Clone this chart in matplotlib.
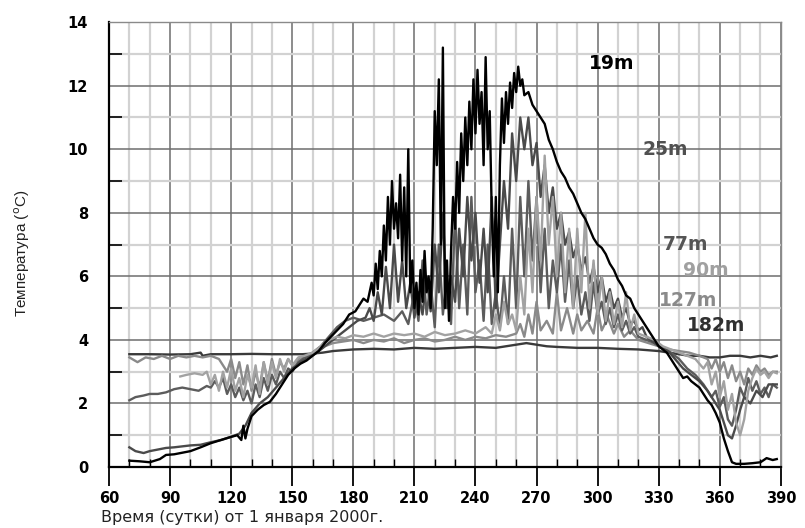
import matplotlib
matplotlib.use("Agg")
import matplotlib.pyplot as plt
from matplotlib.ticker import MultipleLocator

plt.rcParams['font.family'] = ['DejaVu Sans']

# ---------------- data ----------------
d19 = [70, 75, 80, 85, 88, 92, 96, 100, 105, 110, 115, 120, 123, 125, 126, 127, 128, 130, 133, 136, 139, 142, 145, 148, 151, 154, 157, 160, 163, 166, 169, 172, 175, 178, 181, 183, 185, 187, 189, 190, 191, 192, 193, 194, 195, 196, 197, 198, 199, 200, 201, 202, 203, 204, 205, 206, 207, 208, 209, 210, 211, 212, 213, 214, 215, 216, 217, 218, 219, 220, 221, 222, 223, 224, 225, 226, 227, 228, 229, 230, 231, 232, 233, 234, 235, 236, 237, 238, 239, 240, 241, 242, 243, 244, 245, 246, 247, 248, 249, 250, 251, 252, 253, 254, 255, 256, 257, 258, 259, 260, 261, 262, 263, 264, 266, 268, 270, 272, 274, 276, 278, 280, 282, 284, 286, 288, 290, 292, 294, 296, 298, 300, 302, 304, 306, 308, 310, 312, 314, 316, 318, 320, 322, 324, 326, 328, 330, 332, 334, 336, 338, 340, 342, 344, 346, 348, 350, 352, 354, 356, 358, 360, 362, 364, 366, 368, 372, 376, 380, 383, 386, 388]
t19 = [0.2, 0.18, 0.15, 0.25, 0.38, 0.4, 0.45, 0.5, 0.62, 0.75, 0.85, 0.95, 1.0, 0.85, 1.3, 0.9, 1.2, 1.6, 1.8, 1.95, 2.05, 2.3, 2.6, 2.9, 3.1, 3.25, 3.35, 3.5, 3.65, 3.9, 4.1, 4.3, 4.5, 4.8, 4.9, 5.1, 5.3, 5.2, 5.8, 5.4, 6.4, 5.6, 6.8, 6.0, 7.6, 6.5, 8.5, 7.0, 9.0, 7.5, 8.3, 7.2, 9.2, 6.5, 8.8, 6.0, 10.0, 5.5, 6.5, 5.0, 5.8, 4.8, 6.2, 5.2, 6.8, 5.5, 6.0, 5.0, 7.5, 11.2, 9.5, 12.2, 7.0, 13.2, 5.0, 6.5, 4.6, 6.8, 8.5, 7.5, 9.6, 8.0, 10.5, 9.0, 11.0, 9.5, 11.5, 10.0, 12.2, 10.5, 12.5, 10.8, 11.8, 9.5, 12.9, 10.0, 11.2, 8.0, 6.0, 8.5, 5.5, 9.5, 11.6, 10.2, 11.8, 10.8, 12.1, 11.3, 12.4, 11.8, 12.6, 12.0, 12.2, 11.7, 11.8, 11.4, 11.2, 11.0, 10.8, 10.3, 10.0, 9.6, 9.3, 9.1, 8.8, 8.6, 8.3, 8.0, 7.8, 7.5, 7.2, 7.0, 6.9, 6.7, 6.4, 6.2, 5.9, 5.7, 5.4, 5.3, 5.0, 4.8, 4.6, 4.4, 4.2, 4.0, 3.8, 3.7, 3.6, 3.4, 3.2, 3.0, 2.8, 2.85, 2.7, 2.6, 2.5, 2.3, 2.1, 1.95, 1.7, 1.4, 0.9, 0.5, 0.15, 0.1, 0.1, 0.12, 0.15, 0.28, 0.22, 0.25]

d25 = [70, 73, 77, 80, 84, 88, 92, 96, 100, 105, 110, 115, 120, 124, 127, 130, 134, 138, 142, 146, 150, 154, 158, 162, 166, 170, 174, 178, 182, 186, 188, 190, 192, 194, 196, 198, 200, 202, 204, 206, 208, 210, 212, 214, 216, 218, 220, 222, 224, 226, 228, 230, 232, 234, 236, 238, 240, 242, 244, 246, 248, 250, 252, 254, 256, 258, 260, 262, 264, 266, 268, 270, 272, 274, 276, 278, 280, 282, 284, 286, 288, 290, 292, 294, 296, 298, 300, 302, 304, 306, 308, 310, 312, 314, 316, 318, 320, 322, 324, 326, 328, 330, 334, 338, 342, 346, 350, 354, 358, 360, 362, 364, 366, 368, 370, 372, 375, 378, 381, 384, 388]
t25 = [0.62, 0.5, 0.44, 0.5, 0.55, 0.6, 0.62, 0.65, 0.68, 0.7, 0.78, 0.85, 0.95, 1.05, 1.3, 1.7, 2.0, 2.2, 2.5, 2.8, 3.1, 3.3, 3.45, 3.6, 3.8, 4.0, 4.2, 4.4, 4.6, 4.7, 5.0, 4.6, 5.5, 4.8, 6.3, 5.0, 7.0, 5.2, 6.5, 5.0, 5.8, 4.7, 5.5, 4.8, 6.0, 4.9, 7.0, 5.5, 8.0, 5.0, 6.0, 5.2, 7.5, 6.0, 8.5, 6.5, 8.0, 5.8, 7.5, 5.5, 8.5, 5.0, 7.0, 9.0, 7.5, 10.5, 9.0, 11.0, 10.0, 11.0, 9.5, 10.2, 8.5, 9.5, 8.0, 8.8, 7.5, 8.0, 7.0, 7.4, 6.6, 7.0, 6.2, 6.6, 5.8, 6.3, 5.5, 6.0, 5.2, 5.6, 5.0, 5.3, 4.7, 5.0, 4.5, 4.6, 4.3, 4.4, 4.1, 4.0, 3.9, 3.8, 3.7, 3.4, 3.1, 2.9, 2.7, 2.4, 2.0, 1.8, 1.4, 1.0, 0.9, 1.3, 1.8, 2.2, 2.0, 2.4, 2.2, 2.6, 2.6]

d77 = [70, 73, 77, 80, 84, 88, 92, 96, 100, 104, 108, 110, 112, 114, 116, 118, 120, 122, 124, 126, 128, 130, 132, 134, 136, 138, 140, 142, 144, 146, 148, 150, 153, 156, 160, 164, 168, 172, 176, 180, 185, 190, 195, 200, 204, 207, 210, 212, 214, 216, 218, 220, 222, 224, 226, 228, 230, 232, 234, 236, 238, 240, 242, 244, 246, 248, 250, 252, 254, 256, 258, 260, 262, 264, 266, 268, 270, 272, 274, 276, 278, 280, 282, 284, 286, 288, 290, 292, 294, 296, 298, 300, 302, 304, 306, 308, 310, 312, 314, 316, 318, 320, 324, 328, 332, 336, 340, 344, 348, 352, 356, 358, 360, 362, 364, 366, 368, 370, 372, 374, 376, 378, 380, 382, 384, 386, 388]
t77 = [2.1, 2.2, 2.25, 2.3, 2.3, 2.35, 2.45, 2.5, 2.45, 2.4, 2.55, 2.5, 2.7, 2.5, 2.8, 2.3, 2.6, 2.2, 2.5, 2.1, 2.4, 2.0, 2.6, 2.2, 2.8, 2.4, 2.9, 2.6, 3.0, 2.8, 3.1, 3.0, 3.3, 3.45, 3.6, 3.8, 4.1, 4.4, 4.6, 4.7, 4.6, 4.7, 4.8, 4.6, 4.9, 4.5, 5.5, 4.6, 6.5, 4.8, 5.8, 4.4, 7.0, 4.8, 6.0, 4.5, 8.0, 5.0, 7.0, 4.8, 8.5, 5.5, 6.5, 4.6, 7.0, 4.5, 5.5, 4.4, 6.0, 4.5, 7.5, 5.0, 8.5, 6.0, 9.0, 6.5, 8.5, 5.5, 7.5, 5.0, 6.5, 5.5, 7.0, 5.2, 6.5, 5.0, 6.0, 4.8, 5.5, 4.6, 5.8, 4.8, 5.2, 4.5, 5.0, 4.4, 4.8, 4.3, 4.6, 4.2, 4.4, 4.1, 4.0, 3.9, 3.75, 3.6, 3.4, 3.1, 2.9, 2.6, 2.2, 2.4, 1.9, 2.2, 1.5, 1.3, 1.8, 2.5, 2.2, 2.8, 2.4, 2.7, 2.3, 2.5, 2.2, 2.6, 2.5]

d90 = [95, 98, 102, 106, 108, 110, 112, 114, 116, 118, 120, 122, 124, 126, 128, 130, 132, 134, 136, 138, 140, 142, 144, 146, 148, 150, 153, 156, 160, 164, 168, 172, 176, 180, 185, 190, 195, 200, 205, 210, 215, 220, 225, 230, 235, 240, 245, 248, 250, 252, 254, 256, 258, 260, 262, 264, 266, 268, 270, 272, 274, 276, 278, 280, 282, 284, 286, 288, 290, 292, 294, 296, 298, 300, 302, 304, 306, 308, 310, 312, 314, 316, 318, 320, 324, 328, 332, 336, 340, 344, 348, 352, 354, 356, 358, 360, 362, 364, 366, 368, 370, 372, 374, 376, 378, 380, 382, 384, 386, 388]
t90 = [2.85, 2.9, 2.95, 2.9, 3.0, 2.6, 2.9, 2.4, 3.0, 2.5, 3.1, 2.4, 2.8, 2.2, 2.9, 2.5, 3.2, 2.3, 3.3, 2.6, 3.3, 2.8, 3.4, 3.0, 3.4, 3.2, 3.45, 3.5, 3.6, 3.8, 4.0, 4.1, 4.05, 4.15, 4.1, 4.2, 4.1, 4.2, 4.15, 4.2, 4.1, 4.25, 4.15, 4.2, 4.3, 4.2, 4.4, 4.2, 4.8, 4.3, 5.2, 4.5, 4.8, 4.3, 6.0, 4.8, 7.5, 5.5, 8.5, 6.5, 9.8, 7.0, 8.5, 6.0, 8.0, 5.5, 7.5, 5.0, 7.5, 5.5, 8.0, 5.0, 6.5, 4.8, 6.0, 4.6, 5.5, 4.5, 5.2, 4.4, 5.5, 4.3, 4.8, 4.2, 4.1, 4.0, 3.8, 3.7, 3.6, 3.5, 3.4, 3.1, 3.3, 2.6, 3.0, 2.2, 2.7, 1.8, 2.3, 1.4, 1.0, 1.5, 2.4, 2.8, 3.1, 2.9, 3.0, 2.8, 3.0, 2.95]

d127 = [70, 74, 78, 82, 86, 90, 94, 98, 102, 106, 110, 114, 118, 120, 122, 124, 126, 128, 130, 132, 134, 136, 138, 140, 142, 144, 146, 148, 150, 154, 158, 162, 166, 170, 175, 180, 185, 190, 195, 200, 205, 210, 215, 220, 225, 230, 235, 240, 245, 250, 255, 260, 262, 264, 266, 268, 270, 272, 275, 278, 280, 282, 285, 288, 290, 292, 295, 298, 300, 302, 305, 308, 310, 313, 316, 320, 325, 330, 335, 340, 345, 350, 354, 356, 358, 360, 362, 364, 366, 368, 370, 372, 374, 376, 378, 380, 382, 384, 386, 388]
t127 = [3.45, 3.3, 3.45, 3.4, 3.5, 3.4, 3.5, 3.45, 3.5, 3.45, 3.5, 3.4, 3.0, 3.4, 2.8, 3.3, 2.6, 3.2, 2.4, 3.0, 2.5, 3.3, 2.7, 3.4, 2.9, 3.3, 3.1, 3.4, 3.2, 3.45, 3.5, 3.6, 3.8, 3.9, 3.95, 4.0, 3.9, 4.0, 3.95, 4.05, 3.9, 4.0, 4.05, 3.95, 4.0, 4.1, 4.0, 4.1, 4.05, 4.15, 4.1, 4.2, 4.5, 4.1, 4.8, 4.2, 5.2, 4.3, 4.6, 4.2, 5.5, 4.3, 5.0, 4.2, 4.8, 4.3, 4.6, 4.2, 5.0, 4.3, 4.7, 4.2, 4.5, 4.1, 4.3, 4.0, 3.9, 3.8, 3.7, 3.65, 3.6, 3.5, 3.4, 3.1, 3.4, 3.0, 3.3, 2.8, 3.2, 2.7, 3.0, 2.6, 3.1, 2.9, 3.2, 3.0, 3.1, 2.9, 3.0, 3.0]

d182 = [70, 80, 90, 100, 105, 106, 110, 120, 130, 140, 150, 155, 160, 165, 170, 180, 190, 200, 210, 220, 230, 240, 250, 255, 260, 265, 270, 275, 280, 290, 300, 310, 320, 330, 335, 340, 345, 350, 355, 360, 365, 370, 375, 380, 385, 388]
t182 = [3.55, 3.55, 3.54, 3.55, 3.6, 3.5, 3.55, 3.55, 3.56, 3.55, 3.55, 3.55, 3.57, 3.6, 3.65, 3.7, 3.72, 3.7, 3.75, 3.72, 3.75, 3.78, 3.75, 3.8, 3.85, 3.9, 3.85, 3.8, 3.78, 3.75, 3.75, 3.72, 3.7, 3.65, 3.6, 3.55, 3.5, 3.5, 3.45, 3.45, 3.5, 3.5, 3.45, 3.5, 3.45, 3.5]

labels = ['19m', '25m', '77m', '90m', '127m', '182m']
x_ticks = [60, 90, 120, 150, 180, 210, 240, 270, 300, 330, 360, 390]
y_ticks = [0, 2, 4, 6, 8, 10, 12, 14]

# ---------------- figure ----------------
fig = plt.figure(figsize=(8.05, 5.28), dpi=100)
ax = fig.add_axes([0.1354, 0.1155, 0.8346, 0.8425])

ax.set_xlim(60, 390)
ax.set_ylim(0, 14)

ax.xaxis.set_major_locator(MultipleLocator(30))
ax.xaxis.set_minor_locator(MultipleLocator(10))
ax.yaxis.set_major_locator(MultipleLocator(2))
ax.yaxis.set_minor_locator(MultipleLocator(1))

ax.grid(which='minor', color='#d2d2d2', lw=1.6, zorder=0)
ax.grid(which='major', color='#6e6e6e', lw=1.1, zorder=0)
ax.set_axisbelow(True)

lw = 1.7
ax.plot(d182, t182, color='#3a3a3a', lw=lw, zorder=2)
ax.plot(d127, t127, color='#8a8a8a', lw=lw, zorder=3)
ax.plot(d77, t77, color='#5c5c5c', lw=lw, zorder=3)
ax.plot(d25, t25, color='#4a4a4a', lw=lw, zorder=4)
ax.plot(d90, t90, color='#a2a2a2', lw=lw, zorder=4)
ax.plot(d19, t19, color='#000000', lw=lw, zorder=5)

lab_kw = dict(fontsize=13.5, fontweight='bold', ha='center', va='center', zorder=6)
ax.text(307, 12.7, labels[0], color='#000000', **lab_kw)
ax.text(333, 10.0, labels[1], color='#505050', **lab_kw)
ax.text(343, 7.0, labels[2], color='#555555', **lab_kw)
ax.text(353, 6.2, labels[3], color='#a0a0a0', **lab_kw)
ax.text(344.5, 5.25, labels[4], color='#8a8a8a', **lab_kw)
ax.text(358, 4.45, labels[5], color='#303030', **lab_kw)

ax.set_xticks(x_ticks)
ax.set_xticklabels([str(v) for v in x_ticks], fontsize=10.5, fontweight='bold')
ax.set_yticks(y_ticks)
ax.set_yticklabels([str(v) for v in y_ticks], fontsize=10.5, fontweight='bold')

ax.tick_params(axis='x', which='major', direction='out', length=14, width=1.3, color='black', pad=3)
ax.tick_params(axis='x', which='minor', direction='in', length=6, width=1.0, color='black')
ax.tick_params(axis='y', which='major', direction='in', length=0, pad=15)
ax.tick_params(axis='y', which='minor', direction='in', length=9, width=1.2, color='black')

for s in ['left', 'bottom']:
    ax.spines[s].set_color('black')
    ax.spines[s].set_linewidth(1.6)
for s in ['top', 'right']:
    ax.spines[s].set_color('#8a8a8a')
    ax.spines[s].set_linewidth(1.0)

fig.text(0.125, 1 - 522 / 528, 'Время (сутки) от 1 января 2000г.', fontsize=11.5, color='#222222',
         ha='left', va='baseline')
fig.text(0.028, 0.52, 'Температура ($^{\\rm o}$C)', fontsize=11, color='#222222', rotation=90, ha='center', va='center',
         family='Liberation Sans')

fig.savefig('out.png', dpi=100)
